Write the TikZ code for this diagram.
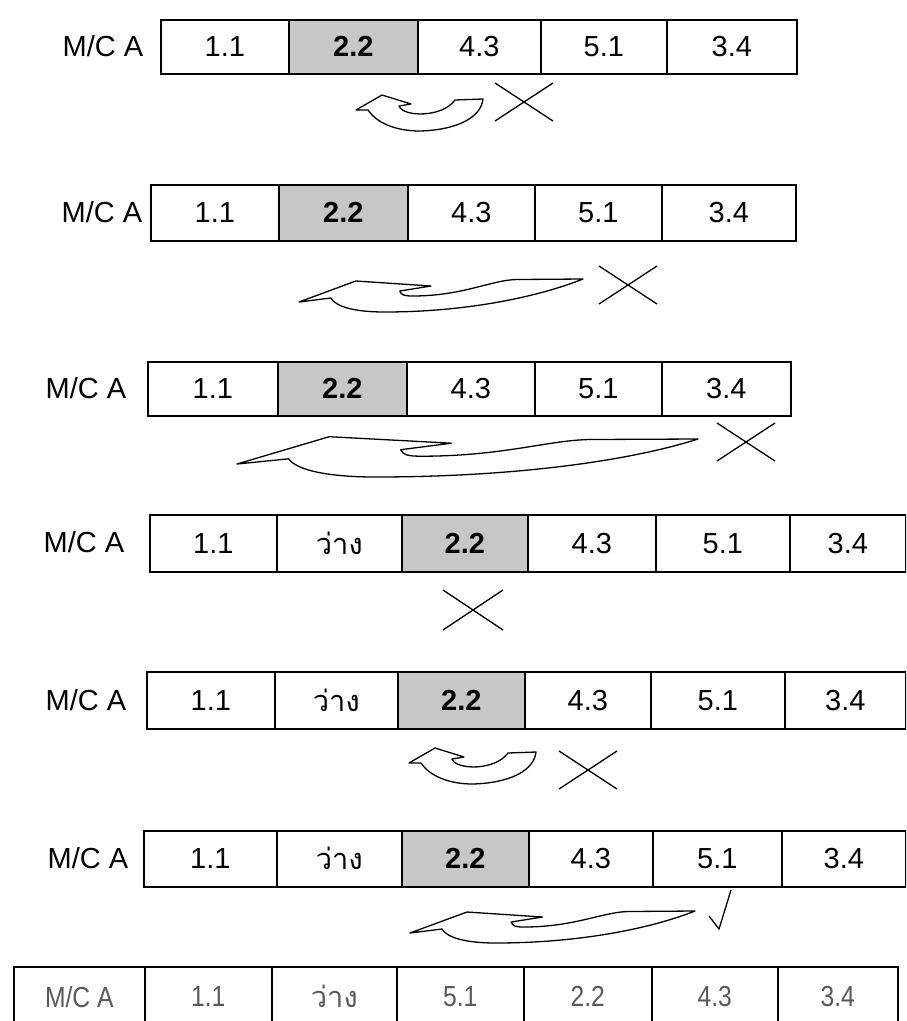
\documentclass[tikz,border=0pt]{standalone}
\usepackage{fontspec}
\setmainfont{Liberation Sans}
\newfontfamily\narrowfont{Liberation Sans}[FakeStretch=0.85]
\newfontfamily\thaifont[Script=Thai]{Loma}
\usetikzlibrary{positioning}

\tikzset{
  cell/.style={draw, line width=1.6pt, inner sep=0pt, anchor=north west,
    font=\fontsize{29}{33}\selectfont},
  plain/.style={},
  hot/.style={fill=black!22, font=\fontsize{29}{33}\selectfont\bfseries},
  thai/.style={font=\fontsize{29}{33}\selectfont\thaifont},
  faded/.style={text=black!65, font=\fontsize{29}{33}\selectfont\narrowfont},
  tag/.style={font=\fontsize{29}{33}\selectfont},
  bent/.style={draw, line width=1.3pt, line join=round},
  cross/.style={line width=1.3pt},
}

\newcommand\machine{M/C A}

% one row of slots: name, top, height, list of left/right/text/style
\newcommand\cellrow[5][]{%
  \foreach \l/\r/\t/\s [count=\i] in {#5}
    \node[cell, #1, \s, minimum width={\r-\l}, minimum height=#4]
      (#2c\i) at (\l,#3) {\t};}

% small u-turn arrow, tip at (#1,#2)
\newcommand\uturn[2]{%
  \begin{scope}[shift={(#1,#2)}]
    \draw[bent] (0,0) -- (26,-15) -- (55,-6) -- (43,-4)
      .. controls (47,7) and (86,8) .. (99,-10) -- (127,-11)
      .. controls (125,8) and (100,20) .. (64,21)
      .. controls (38,21) and (20,12) .. (12,0) -- cycle;
  \end{scope}}

% long swept arrow: tip x, tip y, length, thickness, rise of the tail
\newcommand\sweep[5]{%
  \begin{scope}[shift={(#1,#2)}, x=#3pt]
    \draw[bent] (0,0) -- (0.2,{-21*#4}) -- (0.465,{-16*#4}) -- (0.355,{-11*#4})
      .. controls (0.36,{-7*#4}) and (0.37,{-6*#4}) .. (0.40,{-6*#4})
      .. controls (0.58,{-6*#4}) and (0.68,{-#5+0.5}) .. (0.77,{-#5+0.5})
      -- (1,-#5)
      .. controls (0.85,{-#5+17*#4}) and (0.6,{10*#4}) .. (0.3,{10*#4})
      .. controls (0.2,{10*#4}) and (0.13,{5*#4}) .. (0.112,{-4*#4}) -- cycle;
  \end{scope}}

% cross: centre x, centre y, half width, half height
\newcommand\nogo[4]{%
  \draw[cross] (#1-#3,#2-#4) -- (#1+#3,#2+#4) (#1-#3,#2+#4) -- (#1+#3,#2-#4);}

\begin{document}
\begin{tikzpicture}[x=1pt, y=-1pt]
\useasboundingbox (0,0) rectangle (906,1021);
\clip (0,0) rectangle (906,1021);

% step 1
\node[tag] (a) at (103,46) {\machine};
\cellrow{a}{19}{54pt}{160/288/1.1/plain, 288/417/2.2/hot, 417/540/4.3/plain,
  540/666/5.1/plain, 666/796/3.4/plain}
\uturn{356}{110}
\nogo{524}{102}{29}{19}

% step 2
\node[tag] (b) at (102,212) {\machine};
\cellrow{b}{184}{56pt}{150/278/1.1/plain, 278/407/2.2/hot, 407/534/4.3/plain,
  534/661/5.1/plain, 661/795/3.4/plain}
\sweep{299}{302}{284}{1}{23}
\nogo{628}{285}{29}{19}

% step 3
\node[tag] (c) at (86,388) {\machine};
\cellrow{c}{361}{54pt}{147/277/1.1/plain, 277/406/2.2/hot, 406/534/4.3/plain,
  534/661/5.1/plain, 661/790/3.4/plain}
\sweep{237}{464}{461}{1.3}{25}
\nogo{746}{442}{29}{19}

% step 4
\node[tag] (d) at (84,542) {\machine};
\cellrow{d}{514}{57pt}{149/276/1.1/plain, 276/401/ว่าง/thai, 401/527/2.2/hot,
  527/655/4.3/plain, 655/789/5.1/plain, 789/905/3.4/plain}
\nogo{473}{610}{30}{20}

% step 5
\node[tag] (e) at (86,700) {\machine};
\cellrow{e}{671}{57pt}{146/274/1.1/plain, 274/397/ว่าง/thai, 397/524/2.2/hot,
  524/650/4.3/plain, 650/784/5.1/plain, 784/905/3.4/plain}
\uturn{409}{763}
\nogo{588}{770}{29}{19}

% step 6
\node[tag] (f) at (88,858) {\machine};
\cellrow{f}{830}{56pt}{143/276/1.1/plain, 276/401/ว่าง/thai, 401/528/2.2/hot,
  528/652/4.3/plain, 652/781/5.1/plain, 781/905/3.4/plain}
\sweep{410}{933}{285}{1}{22}
\draw[cross] (709,916) -- (719,929) -- (731,890);

% result
\cellrow[faded]{g}{966}{60pt}{13/144/\machine/plain, 144/271/1.1/plain,
  271/396/ว่าง/thai, 396/523/5.1/plain, 523/651/2.2/plain,
  651/777/4.3/plain, 777/897/3.4/plain}
\end{tikzpicture}
\end{document}
